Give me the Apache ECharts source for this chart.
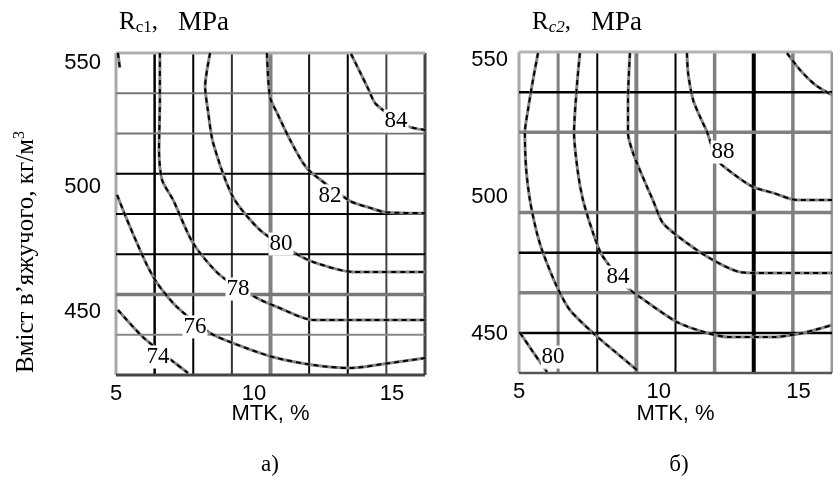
<!DOCTYPE html>
<html><head><meta charset="utf-8">
<script src="https://cdn.jsdelivr.net/npm/echarts@6/dist/echarts.min.js"></script>
<style>html,body{margin:0;padding:0;background:#fff}#c{width:833px;height:483px}</style>
</head><body><div id="c"></div>
<script>
// ---------- DATA ----------
const xTickLabels = [5, 10, 15];
const yTickLabels = [450, 500, 550];

// Rc1 contour lines [MTK %, binder kg/m3]
const rc1Level84 = [[13.52,553.4],[13.84,546.2],[14.13,539.7],[14.42,533.3],[15.55,524.5],[16.2,522.9]];
const rc1Level82 = [[10.47,553.8],[10.58,536.1],[10.84,529.7],[11.31,518.9],[11.78,509.6],[12.10,505.6],[13.48,494.4],[14.21,491.6],[14.75,489.9],[16.2,489.5]];
const rc1Level80 = [[8.41,553.8],[8.23,540.2],[8.33,530.9],[8.52,517.7],[9.24,496.0],[10.22,482.7],[11.42,473.9],[12.14,469.9],[13.59,465.9],[16.2,465.9]];
const rc1Level78 = [[6.59,553.8],[6.59,534.9],[6.56,514.8],[6.67,502.8],[7.07,494.8],[7.79,477.5],[8.77,464.6],[10.11,455.4],[10.84,451.8],[12.14,446.6],[16.2,446.6]];
const rc1Level76a = [[5.07,553.8],[5.14,547.8]];
const rc1Level76b = [[5.04,496.8],[5.33,488.7],[5.76,477.5],[6.12,468.7],[6.49,461.4],[7.21,451.8],[8.41,441.4],[9.24,437.3],[10.69,431.7],[12.14,428.5],[13.48,427.3],[14.93,429.3],[16.2,431.3]];
const rc1Level74 = [[5.07,450.6],[5.98,439.7],[7.14,429.3],[7.61,425.3]];
const rc1Labels = [[15.15,526.5,'84'],[12.76,496.4,'82'],[10.98,477.1,'80'],[9.42,459.0,'78'],[7.86,443.8,'76'],[6.52,431.7,'74']];

// Rc2 contour lines
const rc2Level90 = [[14.59,552.5],[15.06,546.3],[15.60,540.9],[16.2,537.2]];
const rc2Level88 = [[11.01,552.5],[11.05,545.2],[11.23,535.4],[11.48,529.2],[11.73,523.7],[12.09,513.5],[12.73,508.0],[13.37,503.7],[14.09,501.5],[14.95,498.9],[16.2,498.9]];
const rc2Level86 = [[8.97,552.5],[8.90,535.4],[8.90,523.4],[9.08,516.1],[9.58,503.7],[9.79,498.9],[10.15,490.5],[11.01,483.2],[11.94,477.0],[12.91,472.6],[13.52,472.3],[16.2,472.3]];
const rc2Level84 = [[7.18,552.5],[7.08,541.6],[6.97,523.4],[7.11,508.8],[7.29,498.9],[7.65,486.9],[7.97,478.8],[8.86,467.2],[9.33,463.5],[10.65,454.4],[11.73,450.4],[12.55,448.9],[14.09,448.9],[15.16,450.4],[16.2,453.3]];
const rc2Level82 = [[5.68,552.5],[5.50,542.7],[5.32,531.7],[5.21,523.4],[5.25,510.9],[5.39,498.9],[5.64,486.9],[5.86,479.6],[6.36,467.2],[6.82,458.8],[7.65,450.4],[8.36,444.2],[9.22,436.9]];
const rc2Level80 = [[5.04,450.4],[5.50,443.5],[6.0,436.2]];
const rc2Labels = [[12.30,516.4,'88'],[8.54,470.8,'84'],[6.22,441.6,'80']];

// ---------- AXES / STYLE ----------
const X_RANGE = [5, 16.2];
const Y1_RANGE = [424.5, 553.8];
const Y2_RANGE = [435.8, 552.9];

// grid-line styles (k = 0..8 equal divisions of the axis range)
const g1V = [['#a9a9a9',3],['#000',2.5],['#000',2],['#333',2],['#808080',4],['#111',2],['#000',2],['#444',2],['#444',3]];
const g1H = [['#444',3],['#888',2],['#777',3.5],['#000',2],['#000',2],['#000',2],['#777',2],['#777',2],['#b0b0b0',3]];
const g2V = [['#aaa',3],['#808080',3],['#000',2],['#808080',4],['#000',2],['#808080',3.5],['#000',4],['#808080',3.5],['#999',3]];
const g2H = [['#555',2.5],['#000',2.5],['#808080',3.5],['#000',2.5],['#808080',3.5],null,['#808080',3.5],['#000',2.5],['#b5b5b5',3]];

function gridSeries(gi, yr, vS, hS) {
  const lines = [];
  vS.forEach((s, k) => { if (s) lines.push({d:'v', v: X_RANGE[0] + (X_RANGE[1]-X_RANGE[0])*k/8, c:s[0], w:s[1]}); });
  hS.forEach((s, k) => { if (s) lines.push({d:'h', v: yr[0] + (yr[1]-yr[0])*k/8, c:s[0], w:s[1]}); });
  return {
    type:'custom', xAxisIndex:gi, yAxisIndex:gi, silent:true, animation:false, z:1,
    data: lines.map((l,i)=>[X_RANGE[0], yr[0], i]),
    renderItem: (params, api) => {
      const l = lines[api.value(2)];
      let p1, p2;
      if (l.d === 'v') { p1 = api.coord([l.v, yr[0]]); p2 = api.coord([l.v, yr[1]]); }
      else { p1 = api.coord([X_RANGE[0], l.v]); p2 = api.coord([X_RANGE[1], l.v]); }
      return {type:'line', shape:{x1:p1[0],y1:p1[1],x2:p2[0],y2:p2[1]}, style:{stroke:l.c, lineWidth:l.w}};
    }
  };
}
function contour(points, gi) {
  return [
    {type:'line', xAxisIndex:gi, yAxisIndex:gi, data:points, smooth:0.25, symbol:'none', silent:true, animation:false, z:3,
     lineStyle:{color:'#858585', width:3}},
    {type:'line', xAxisIndex:gi, yAxisIndex:gi, data:points, smooth:0.25, symbol:'none', silent:true, animation:false, z:4,
     lineStyle:{color:'#000', width:2, type:[5,4]}}
  ];
}
function labels(data, gi) {
  return {type:'scatter', xAxisIndex:gi, yAxisIndex:gi, data:data, symbolSize:0, silent:true, animation:false, z:6,
    itemStyle:{color:'#000', opacity:1},
    label:{show:true, position:'inside', formatter:p=>p.value[2], fontFamily:'Liberation Serif', fontSize:23,
      color:'#000', textBorderWidth:0, textBorderColor:'transparent', backgroundColor:'#fff', padding:[0,1], opacity:1}};
}
const sans = 'Liberation Sans';
function xAx(gi, gap) {
  return {type:'value', gridIndex:gi, min:X_RANGE[0], max:X_RANGE[1], name:'MTK, %', nameLocation:'middle', nameGap:gap,
    nameMoveOverlap:false,
    nameTextStyle:{fontFamily:sans, fontSize:22, color:'#000'},
    axisLine:{show:false}, axisTick:{show:false, customValues:xTickLabels}, splitLine:{show:false},
    axisLabel:{customValues:xTickLabels, fontFamily:sans, fontSize:22, color:'#000', margin:8}};
}
function yAx(gi, yr, margin) {
  return {type:'value', gridIndex:gi, min:yr[0], max:yr[1],
    axisLine:{show:false}, axisTick:{show:false, customValues:yTickLabels}, splitLine:{show:false},
    axisLabel:{customValues:yTickLabels, fontFamily:sans, fontSize:22, color:'#000', margin:margin}};
}

const serif = 'Liberation Serif';
const titleRich = (italic) => ({
  r:{fontFamily:serif, fontSize:25, lineHeight:28, fill:'#000'},
  s:{fontFamily:serif, fontStyle: italic ? 'italic' : 'normal', fontSize:17, lineHeight:17, verticalAlign:'bottom', fill:'#000'},
  m:{fontFamily:serif, fontSize:27, lineHeight:28, fill:'#000', padding:[0,0,0,20]}
});
const option = {
  backgroundColor:'#fff',
  animation:false,
  grid:[{left:116, right:408, top:53, bottom:108}, {left:519, right:1, top:52, bottom:110}],
  xAxis:[xAx(0,28), xAx(1,30)],
  yAxis:[yAx(0,Y1_RANGE,15), yAx(1,Y2_RANGE,11)],
  series:[
    gridSeries(0, Y1_RANGE, g1V, g1H),
    gridSeries(1, Y2_RANGE, g2V, g2H),
    ...contour(rc1Level84,0), ...contour(rc1Level82,0), ...contour(rc1Level80,0), ...contour(rc1Level78,0),
    ...contour(rc1Level76a,0), ...contour(rc1Level76b,0), ...contour(rc1Level74,0),
    ...contour(rc2Level90,1), ...contour(rc2Level88,1), ...contour(rc2Level86,1), ...contour(rc2Level84,1),
    ...contour(rc2Level82,1), ...contour(rc2Level80,1),
    labels(rc1Labels,0), labels(rc2Labels,1)
  ],
  graphic:[
    {type:'text', left:119, top:9, style:{text:'{r|R}{s|c1}{r|,}{m|MPa}', rich:titleRich(false)}},
    {type:'text', left:532, top:9, style:{text:'{r|R}{s|c2}{r|,}{m|MPa}', rich:titleRich(true)}},
    {type:'text', x:26, y:252, rotation:Math.PI/2, style:{text:'{t|Вміст в’яжучого, кг/м}{p|3}', align:'center', verticalAlign:'middle',
      rich:{t:{fontFamily:serif, fontSize:25, lineHeight:28, fill:'#000'}, p:{fontFamily:serif, fontSize:16, lineHeight:16, verticalAlign:'top', fill:'#000'}}}},
    {type:'text', x:270, y:465, style:{text:'а)', fontFamily:serif, fontSize:23, fill:'#000', align:'center', verticalAlign:'middle'}},
    {type:'text', x:679, y:465, style:{text:'б)', fontFamily:serif, fontSize:23, fill:'#000', align:'center', verticalAlign:'middle'}}
  ]
};
const chart = echarts.init(document.getElementById('c'));
chart.setOption(option);
</script></body></html>
